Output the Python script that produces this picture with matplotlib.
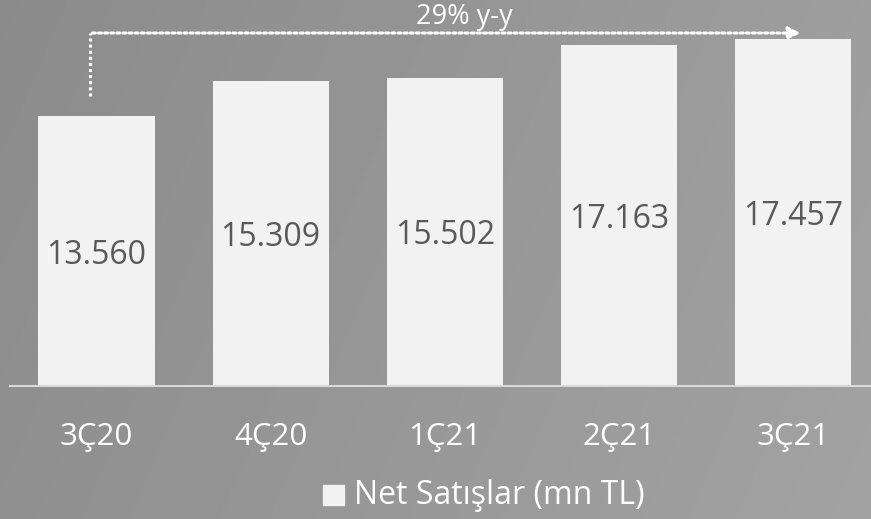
import numpy as np
import matplotlib.pyplot as plt
from matplotlib.patches import FancyArrowPatch

plt.rcParams['font.family'] = ['Open Sans', 'DejaVu Sans']

# data
quarters = ["3Ç20", "4Ç20", "1Ç21", "2Ç21", "3Ç21"]
net_sales = [13560, 15309, 15502, 17163, 17457]
value_labels = ["13.560", "15.309", "15.502", "17.163", "17.457"]
growth_label = "29% y-y"
legend_label = "Net Satışlar (mn TL)"

fig = plt.figure(figsize=(8.71, 5.19), dpi=100)

# gray gradient background (darker left, lighter right)
bg = fig.add_axes([0, 0, 1, 1], zorder=-1)
grad = np.linspace(0, 1, 256)
xx, yy = np.meshgrid(grad, grad)
bg.imshow(0.8 * xx + 0.2 * (1 - yy), cmap='gray', vmin=-6.0, vmax=5.0,
          extent=[0, 1, 0, 1], aspect='auto', origin='lower')
bg.axis('off')

ax = fig.add_axes([9.5 / 871, 1 - 386 / 519, 870.5 / 871, 386 / 519])
ax.patch.set_alpha(0)
x = np.arange(len(quarters))
bars = ax.bar(x, net_sales, width=0.667, color='#f2f2f2', zorder=2)
ax.set_xlim(-0.5, 4.5)
ax.set_ylim(0, 19400)

for b, lab in zip(bars, value_labels):
    ax.text(b.get_x() + b.get_width() / 2, b.get_height() / 2, lab,
            ha='center', va='center_baseline', fontsize=23, color='#595959', zorder=3)

for s in ['top', 'right', 'left']:
    ax.spines[s].set_visible(False)
ax.spines['bottom'].set_color('#d9d9d9')
ax.spines['bottom'].set_linewidth(1.5)
ax.set_yticks([])
ax.set_xticks(x)
ax.set_xticklabels(quarters, fontsize=22.5, color='white')
ax.tick_params(axis='x', length=0, pad=26)

# growth arrow
y_arrow = 19400 * (386 - 33) / 386
y_start = net_sales[0] + 19400 * 20 / 386
ax.plot([-0.04, -0.04], [y_start, y_arrow], ls=(0, (1, 1)), color='white', lw=2.2, zorder=3)
arr = FancyArrowPatch((-0.04, y_arrow), (4.06, y_arrow), arrowstyle='-|>', mutation_scale=18,
                      color='white', lw=2.2, linestyle=(0, (1, 1)), zorder=3)
ax.add_patch(arr)
ax.text(2.11, y_arrow + 100, growth_label, ha='center', va='bottom', fontsize=19.5, color='white')

# legend
fig.patches.append(plt.Rectangle((323 / 871, 1 - 505 / 519), 21 / 871, 20 / 519,
                                 transform=fig.transFigure, color='#f2f2f2'))
fig.text(354 / 871, 1 - 496 / 519, legend_label, ha='left', va='center', fontsize=23, color='white')

fig.savefig('out.png', dpi=100)
